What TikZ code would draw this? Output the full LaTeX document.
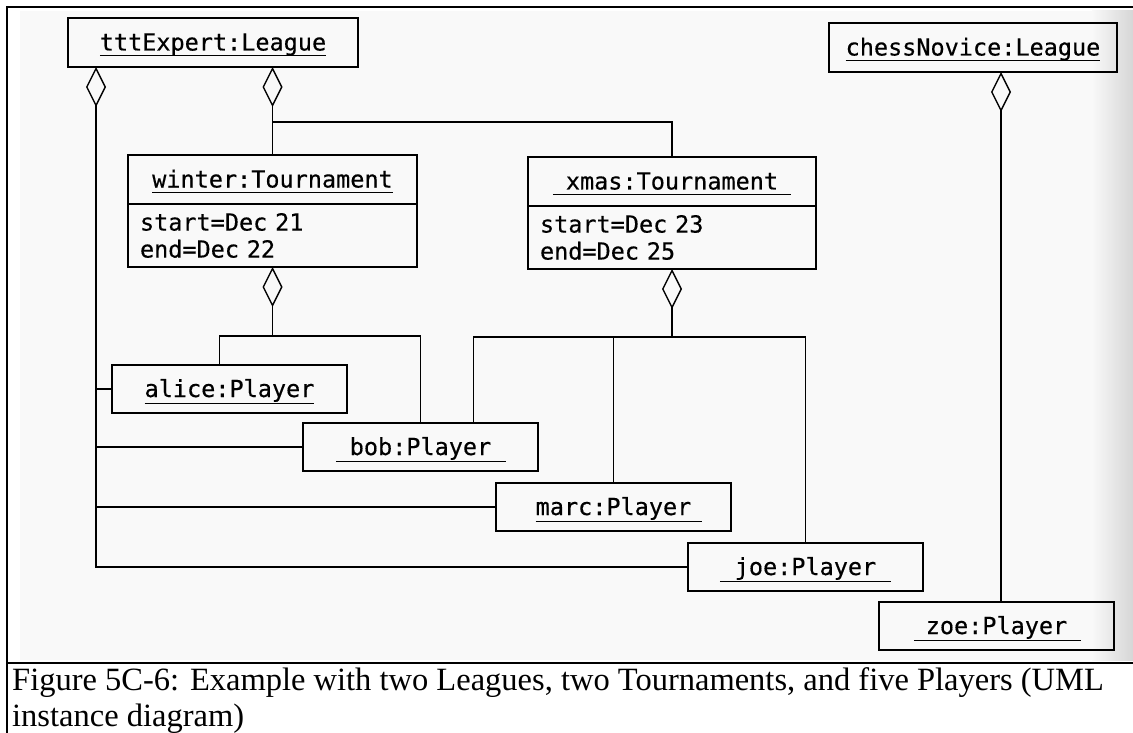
\documentclass[tikz,border=0pt]{standalone}
\usepackage{fontspec}
\setmainfont{Liberation Serif}
\newfontfamily\diagfont{DejaVu Sans Mono}[WordSpace={1,0,0}, FakeBold=0.4]
\usetikzlibrary{arrows.meta}

% underlined object name; #2 and #4 stretch the rule left and right, #1 is its drop
\newcommand\ulx[4][7pt]{\setbox0=\hbox{#3}\kern-#2\rlap{\rule[-#1]{\dimexpr\wd0+#2+#4\relax}{1.4pt}}\kern#2\box0}

\begin{document}
\begin{tikzpicture}[x=1pt,y=-1pt,
  objbox/.style={draw, line width=1.8pt, inner sep=0pt, outer sep=0pt, anchor=north west,
    text height=17pt, text depth=1pt, font=\diagfont\fontsize{23.5}{27}\selectfont},
  league/.style={objbox, minimum height=49pt},
  tourn/.style={objbox, minimum width=289pt, minimum height=49pt},
  attrs/.style={draw, line width=1.8pt, anchor=north west, inner xsep=12pt, inner ysep=0pt,
    outer sep=0pt, text width=265pt, minimum height=63pt, align=left,
    font=\diagfont\fontsize{23.5}{27}\selectfont},
  player/.style={objbox, minimum width=235pt, minimum height=48pt},
  conn/.style={line width=1.4pt},
  agg/.style={conn, {Diamond[open, length=40pt, width=20pt]}-},
  frame/.style={line width=2.6pt},
  caption/.style={anchor=base west, inner sep=0pt, font=\fontsize{32.5}{37}\selectfont}]

\useasboundingbox (0,0) rectangle (1133,733);

% scanned page area with its darker right edge
\fill[gray!5] (20,11) rectangle (1133,660);
\shade[left color=gray!5, right color=gray!32] (1092,11) rectangle (1133,660);

% table frame
\draw[frame] (7,733) -- (7,7) -- (1133,7);
\draw[frame] (7,663) -- (1133,663);

% leagues
\node[league, minimum width=290pt] (ttt) at (68,18) {\ulx[6pt]{0pt}{tttExpert:League}{0pt}};
\node[league, minimum width=288pt] (chess) at (829,23) {\ulx[6pt]{0pt}{chessNovice:League}{0pt}};

% tournaments
\node[tourn] (winter) at (128,155) {\ulx[6pt]{0pt}{winter:Tournament}{0pt}};
\node[attrs] (winterattr) at (winter.south west) {start=Dec 21\\end=Dec 22};
\node[tourn, minimum width=288pt] (xmas) at (528,157) {\ulx[6pt]{13pt}{xmas:Tournament}{13pt}};
\node[attrs, text width=264pt] (xmasattr) at (xmas.south west) {start=Dec 23\\end=Dec 25};

% players
\node[player] (alice) at (112,365) {\ulx{0pt}{alice:Player}{0pt}};
\node[player] (bob) at (303,423) {\ulx{14pt}{bob:Player}{15pt}};
\node[player] (marc) at (496,483) {\ulx{0pt}{marc:Player}{11pt}};
\node[player] (joe) at (688,543) {\ulx{15pt}{joe:Player}{15pt}};
\node[player] (zoe) at (879,602) {\ulx{12pt}{zoe:Player}{14pt}};

% bus lines
\coordinate (lx) at (96,0);
\coordinate (busT) at (0,122);
\coordinate (busW) at (0,336);
\coordinate (busX) at (0,337);
\coordinate (cx) at (1001,0);

% tttExpert: players
\draw[agg] (ttt.south -| lx) -- (lx |- joe.west) -- (joe.west);
\draw[conn] (lx |- alice.west) -- (alice.west);
\draw[conn] (lx |- bob.west) -- (bob.west);
\draw[conn] (lx |- marc.west) -- (marc.west);

% tttExpert: tournaments
\draw[agg] (ttt.south -| winter.north) -- (winter.north);
\draw[conn] (winter.north |- busT) -| (xmas.north);

% winter: players
\draw[agg] (winterattr.south) -- (winterattr.south |- busW);
\draw[conn] ([xshift=-10pt]alice.north) |- (bob.north |- busW) -- (bob.north);

% xmas: players
\draw[agg] (xmasattr.south) -- (xmasattr.south |- busX);
\draw[conn] ([xshift=53pt]bob.north) |- (joe.north |- busX) -- (joe.north);
\draw[conn] (marc.north |- busX) -- (marc.north);

% chessNovice: zoe
\draw[agg] (chess.south -| cx) -- (cx |- zoe.north);

% caption
\node[caption] (cap1) at (12,690) {Figure 5C-6: Example with two Leagues, two Tournaments, and five Players (UML};
\node[caption] (cap2) at (12,726) {instance diagram)};
\end{tikzpicture}
\end{document}
